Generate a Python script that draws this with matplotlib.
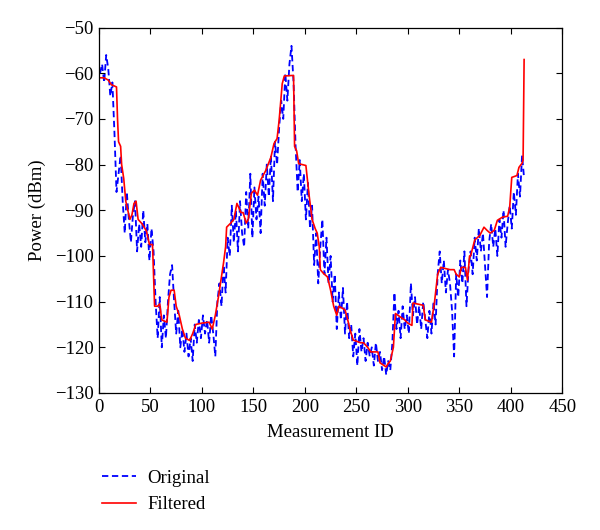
import numpy as np
import matplotlib
matplotlib.use("Agg")
import matplotlib.pyplot as plt

# Original measurements (every second ID)
orig_id = np.arange(1, 415, 2)
orig_dbm = [
    -60, -58, -62, -56, -59, -65, -62, -73, -86, -82,
    -78, -88, -95, -86, -92, -97, -91, -88, -99, -93,
    -98, -90, -97, -93, -101, -94, -99, -110, -118, -109,
    -120, -113, -118, -110, -104, -102, -110, -117, -112, -120,
    -116, -121, -117, -122, -118, -123, -115, -119, -114, -118,
    -113, -117, -114, -119, -113, -117, -122, -110, -106, -111,
    -102, -108, -96, -100, -89, -97, -90, -99, -88, -95,
    -98, -86, -94, -82, -96, -85, -92, -87, -95, -82,
    -89, -80, -87, -78, -88, -75, -80, -72, -66, -70,
    -60, -66, -58, -54, -62, -76, -86, -79, -88, -82,
    -92, -84, -94, -89, -102, -95, -106, -98, -92, -104,
    -96, -106, -100, -110, -104, -116, -108, -114, -107, -117,
    -110, -118, -115, -122, -117, -124, -116, -121, -118, -123,
    -119, -122, -120, -124, -119, -123, -121, -125, -122, -126,
    -123, -125, -119, -108, -116, -112, -118, -111, -116, -113,
    -117, -106, -113, -109, -115, -111, -116, -110, -114, -118,
    -112, -117, -110, -115, -104, -99, -106, -101, -108, -103,
    -106, -112, -122, -104, -109, -101, -106, -99, -111, -103,
    -99, -104, -96, -101, -94, -99, -95, -102, -109, -97,
    -93, -98, -94, -100, -92, -96, -90, -98, -93, -89,
    -94, -86, -91, -82, -87, -78, -83,
]

# Filtered curve (vertices)
filt_id = [
    1, 5, 9, 12, 17, 18, 19, 21, 22, 24, 26, 28, 30, 32, 34, 36, 38, 42, 46, 49,
    52, 53, 54, 57, 59, 61, 66, 68, 70, 73, 75, 78, 81, 84, 88, 91, 94, 100, 107, 110,
    113, 116, 119, 121, 123, 124, 128, 131, 134, 138, 140, 143, 145, 148, 151, 154, 157, 162, 167, 170,
    173, 175, 178, 180, 187, 189, 190, 192, 194, 201, 204, 207, 210, 212, 214, 215, 218, 222, 225, 228,
    231, 233, 239, 241, 244, 247, 254, 257, 261, 264, 268, 271, 273, 279, 281, 283, 286, 288, 293, 297,
    300, 304, 305, 315, 317, 323, 326, 329, 332, 341, 345, 347, 350, 352, 356, 358, 360, 361, 365, 370,
    374, 377, 380, 384, 387, 392, 397, 399, 401, 406, 408, 411, 412, 413,
]
filt_dbm = [
    -61, -61, -61.5, -62.5, -63, -70, -75, -76, -80, -83, -88, -90, -92, -91, -88.5, -88, -92, -93, -94.5, -97.5,
    -97.5, -104, -111, -111, -110.5, -114, -114.5, -109, -107.5, -107.5, -111, -113, -116, -118, -118.5, -117, -115, -114.7, -114.5, -116,
    -113, -109, -104.5, -101.5, -98, -93.7, -92.8, -92, -88.5, -90.5, -90.5, -92.8, -92, -86.3, -85.6, -86.7, -83.4, -81.3, -78.4, -75.4,
    -74.3, -70.3, -62.3, -60.6, -60.5, -60.5, -76, -77, -79.8, -80.2, -86.5, -92, -94, -95, -98, -103, -103.8, -104.6, -107.5, -111,
    -113, -111, -111.8, -113.4, -116.2, -118.4, -119, -119, -120, -121, -121, -121, -123.4, -124.3, -123.5, -123, -120, -112.6, -113.4, -114,
    -114.7, -115.2, -110.3, -110.8, -114, -114.5, -110, -104, -102.5, -103, -103, -104, -104.6, -102.5, -102.5, -105.3, -100, -100, -96.5, -95.5,
    -93.7, -94.4, -95, -94.4, -92.2, -91.5, -91.3, -89.3, -82.8, -82.4, -80.6, -79.7, -79, -57,
]

plt.rcParams['font.family'] = ['Liberation Serif', 'DejaVu Serif']

fig = plt.figure(figsize=(6, 5.3), dpi=100)
ax = fig.add_axes([0.165, 0.2585, 0.772, 0.6895])

ax.plot(orig_id, orig_dbm, color='#0000ff', linestyle='--', linewidth=1.3,
        dashes=(3.5, 2), label='Original')
ax.plot(filt_id, filt_dbm, color='#ff0000', linewidth=1.2, label='Filtered')

ax.set_xlim(0, 450)
ax.set_ylim(-130, -50)
ax.set_xticks(np.arange(0, 451, 50))
ax.set_yticks(np.arange(-130, -49, 10))
ax.tick_params(direction='in', top=True, right=True, length=4, width=0.8,
               labelsize=13.5, pad=4)
for s in ax.spines.values():
    s.set_linewidth(0.9)

ax.set_xlabel('Measurement ID', fontsize=13.5, labelpad=6)
ax.set_ylabel('Power (dBm)', fontsize=13.5, labelpad=6)

fig.legend(loc='upper left', bbox_to_anchor=(0.158, 0.128), frameon=False,
           fontsize=13.5, handlelength=1.8, handletextpad=0.6, labelspacing=0.5,
           borderaxespad=0)

fig.savefig('out.png', dpi=100)
